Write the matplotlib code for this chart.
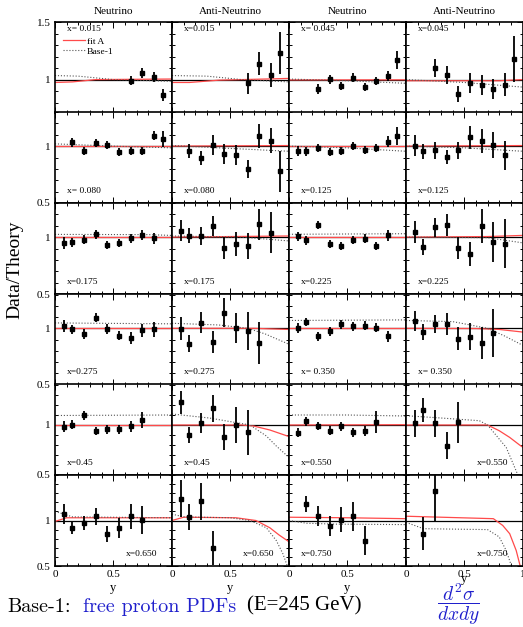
import matplotlib
matplotlib.use('Agg')
import matplotlib.pyplot as plt
from matplotlib.ticker import MultipleLocator

plt.rcParams['font.family'] = 'serif'
plt.rcParams['font.serif'] = ['Liberation Serif']
plt.rcParams['mathtext.fontset'] = 'cm'

col_titles = ["Neutrino", "Anti-Neutrino", "Neutrino", "Anti-Neutrino"]
x_labels = [["x= 0.015", "x=0.015", "x= 0.045", "x=0.045"],
            ["x= 0.080", "x=0.080", "x=0.125", "x=0.125"],
            ["x=0.175", "x=0.175", "x=0.225", "x=0.225"],
            ["x=0.275", "x=0.275", "x= 0.350", "x= 0.350"],
            ["x=0.45", "x=0.45", "x=0.550", "x=0.550"],
            ["x=0.650", "x=0.650", "x=0.750", "x=0.750"]]

# data points per panel: (y, Data/Theory, error); columns Nu, anti-Nu, Nu, anti-Nu
pts_r1 = [
    [(0.65, 0.99, 0.04), (0.75, 1.055, 0.044), (0.85, 1.026, 0.044), (0.93, 0.866, 0.05)],
    [(0.65, 0.968, 0.09), (0.75, 1.138, 0.10), (0.85, 1.04, 0.10), (0.93, 1.23, 0.18)],
    [(0.25, 0.918, 0.044), (0.35, 1.003, 0.04), (0.45, 0.947, 0.035), (0.55, 1.015, 0.04),
     (0.65, 0.933, 0.035), (0.75, 0.985, 0.035), (0.85, 1.032, 0.04), (0.93, 1.17, 0.08)],
    [(0.25, 1.10, 0.08), (0.35, 1.04, 0.08), (0.45, 0.875, 0.073), (0.55, 0.968, 0.088),
     (0.65, 0.953, 0.088), (0.75, 0.92, 0.085), (0.85, 0.956, 0.10), (0.93, 1.18, 0.20)],
]
pts_r2 = [
    [(0.15, 1.032, 0.038), (0.25, 0.959, 0.035), (0.35, 1.024, 0.035), (0.45, 1.012, 0.035),
     (0.55, 0.95, 0.035), (0.65, 0.953, 0.035), (0.75, 0.953, 0.035), (0.85, 1.09, 0.04), (0.93, 1.061, 0.07)],
    [(0.15, 0.956, 0.063), (0.25, 0.893, 0.063), (0.35, 1.012, 0.088), (0.45, 0.932, 0.085),
     (0.55, 0.923, 0.09), (0.65, 0.80, 0.076), (0.75, 1.09, 0.105), (0.85, 1.047, 0.11), (0.93, 0.78, 0.18)],
    [(0.075, 0.954, 0.044), (0.15, 0.954, 0.04), (0.25, 0.984, 0.035), (0.35, 0.95, 0.035),
     (0.45, 0.954, 0.035), (0.55, 0.998, 0.035), (0.65, 0.963, 0.035), (0.75, 0.98, 0.035),
     (0.85, 1.04, 0.045), (0.93, 1.09, 0.076)],
    [(0.075, 1.004, 0.09), (0.15, 0.955, 0.066), (0.25, 0.963, 0.073), (0.35, 0.905, 0.063),
     (0.45, 0.963, 0.075), (0.55, 1.076, 0.098), (0.65, 1.046, 0.105), (0.75, 1.01, 0.115), (0.85, 0.92, 0.127)],
]
pts_r3 = [
    [(0.075, 0.95, 0.05), (0.15, 0.955, 0.04), (0.25, 0.979, 0.04), (0.35, 1.027, 0.04), (0.45, 0.929, 0.035),
     (0.55, 0.95, 0.035), (0.65, 0.988, 0.04), (0.75, 1.018, 0.045), (0.85, 0.988, 0.05)],
    [(0.075, 1.056, 0.094), (0.15, 1.012, 0.067), (0.25, 1.012, 0.08), (0.35, 1.10, 0.09), (0.45, 0.905, 0.097),
     (0.55, 0.94, 0.104), (0.65, 0.922, 0.115), (0.75, 1.113, 0.134), (0.85, 1.04, 0.18)],
    [(0.075, 1.009, 0.04), (0.15, 0.973, 0.04), (0.25, 1.107, 0.035), (0.35, 0.943, 0.035), (0.45, 0.92, 0.035),
     (0.55, 0.973, 0.035), (0.65, 0.985, 0.04), (0.75, 0.922, 0.035), (0.85, 1.015, 0.05)],
    [(0.075, 1.042, 0.097), (0.15, 0.914, 0.07), (0.25, 1.086, 0.082), (0.35, 1.107, 0.10), (0.45, 0.905, 0.10),
     (0.55, 0.848, 0.105), (0.65, 1.098, 0.153), (0.75, 0.958, 0.175), (0.85, 0.943, 0.216)],
]
pts_r4 = [
    [(0.075, 1.021, 0.055), (0.15, 0.991, 0.04), (0.25, 0.946, 0.045), (0.35, 1.095, 0.04), (0.45, 0.997, 0.045),
     (0.55, 0.932, 0.04), (0.65, 0.914, 0.05), (0.75, 0.982, 0.055), (0.85, 0.991, 0.067)],
    [(0.075, 0.997, 0.104), (0.15, 0.863, 0.074), (0.25, 1.051, 0.097), (0.35, 0.878, 0.098),
     (0.45, 1.14, 0.13), (0.55, 1.003, 0.134), (0.65, 0.976, 0.17), (0.75, 0.869, 0.19)],
    [(0.075, 1.003, 0.045), (0.15, 1.056, 0.035), (0.25, 0.931, 0.04), (0.35, 0.976, 0.04), (0.45, 1.036, 0.04),
     (0.55, 1.018, 0.04), (0.65, 1.021, 0.04), (0.75, 1.006, 0.04), (0.85, 0.929, 0.05)],
    [(0.075, 1.065, 0.09), (0.15, 0.967, 0.07), (0.25, 1.042, 0.08), (0.35, 1.036, 0.097),
     (0.45, 0.908, 0.10), (0.55, 0.923, 0.12), (0.65, 0.869, 0.14), (0.75, 0.958, 0.21)],
]
pts_r5 = [
    [(0.075, 0.983, 0.053), (0.15, 1.005, 0.04), (0.25, 1.095, 0.045), (0.35, 0.935, 0.04),
     (0.45, 0.955, 0.045), (0.55, 0.955, 0.045), (0.65, 0.985, 0.05), (0.75, 1.05, 0.078)],
    [(0.075, 1.226, 0.117), (0.15, 0.90, 0.083), (0.25, 1.02, 0.10), (0.35, 1.166, 0.133),
     (0.45, 0.883, 0.13), (0.55, 1.0, 0.183), (0.65, 0.926, 0.223)],
    [(0.075, 0.92, 0.045), (0.15, 1.036, 0.045), (0.25, 0.993, 0.04), (0.35, 0.943, 0.045),
     (0.45, 0.986, 0.045), (0.55, 0.926, 0.045), (0.65, 0.943, 0.05), (0.75, 1.026, 0.11)],
    [(0.075, 1.016, 0.137), (0.15, 1.15, 0.117), (0.25, 1.016, 0.133), (0.35, 0.793, 0.133), (0.45, 1.026, 0.208)],
]
pts_r6 = [
    [(0.075, 1.075, 0.108), (0.15, 0.92, 0.072), (0.25, 0.975, 0.075), (0.35, 1.047, 0.093),
     (0.45, 0.85, 0.086), (0.55, 0.914, 0.11), (0.65, 1.047, 0.135), (0.75, 1.003, 0.156)],
    [(0.075, 1.24, 0.20), (0.15, 1.036, 0.145), (0.25, 1.21, 0.20), (0.35, 0.70, 0.19)],
    [(0.15, 1.18, 0.09), (0.25, 1.047, 0.108), (0.35, 0.935, 0.11), (0.45, 1.01, 0.14),
     (0.55, 1.047, 0.16), (0.65, 0.78, 0.16)],
    [(0.15, 0.855, 0.18), (0.25, 1.32, 0.32)],
]

# theory ratio curves: (y nodes, values)
fitA_r1 = [([0, 0.15, 0.35, 1], [0.975, 0.98, 1.0, 1.005]),
           ([0, 0.15, 0.4, 1], [0.975, 0.975, 0.995, 1.01]),
           ([0, 1], [0.997, 0.998]),
           ([0, 0.8, 1], [0.99, 0.99, 1.0])]
base1_r1 = [([0, 0.2, 0.5, 1], [1.035, 1.03, 1.0, 0.985]),
            ([0, 0.3, 0.6, 1], [1.035, 1.03, 1.0, 0.98]),
            ([0, 0.5, 1], [1.005, 0.99, 0.968]),
            ([0, 0.5, 1], [1.0, 0.975, 0.935])]
fitA_r2 = [([0, 1], [1.0, 1.0]), ([0, 1], [1.0, 1.005]), ([0, 1], [1.0, 1.0]), ([0, 1], [1.0, 1.005])]
base1_r2 = [([0, 0.5, 1], [1.02, 1.0, 0.985]),
            ([0, 0.5, 1], [1.005, 0.98, 0.955]),
            ([0, 0.5, 1], [1.0, 0.985, 0.955]),
            ([0, 0.5, 1], [1.0, 0.985, 0.955])]
fitA_r3 = [([0, 1], [1.0, 1.0]), ([0, 1], [1.0, 1.01]), ([0, 1], [1.0, 1.0]),
           ([0, 0.7, 1], [1.0, 1.005, 1.015])]
base1_r3 = [([0, 0.8, 1], [1.024, 1.022, 1.015]),
            ([0, 0.6, 1], [1.01, 1.0, 0.967]),
            ([0, 1], [1.025, 1.03]),
            ([0, 0.7, 1], [1.0, 0.995, 0.95])]
fitA_r4 = [([0, 1], [1.0, 1.0]), ([0, 0.7, 1], [1.0, 1.0, 0.99]), ([0, 1], [1.0, 1.0]),
           ([0, 0.6, 0.8, 1], [1.0, 0.998, 0.99, 0.967])]
base1_r4 = [([0, 1], [1.048, 1.04]),
            ([0, 0.4, 0.65, 0.8, 1], [1.045, 1.03, 1.0, 0.95, 0.86]),
            ([0, 1], [1.07, 1.075]),
            ([0, 0.4, 0.7, 0.85, 1], [1.07, 1.06, 1.0, 0.93, 0.85])]
fitA_r5 = [([0, 1], [1.0, 1.0]),
           ([0, 0.6, 0.7, 0.84, 1], [1.0, 1.0, 0.99, 0.95, 0.886]),
           ([0, 1], [1.0, 1.003]),
           ([0, 0.7, 0.8, 0.89, 0.975, 1], [1.0, 1.0, 0.943, 0.876, 0.80, 0.78])]
base1_r5 = [([0, 1], [1.095, 1.1]),
            ([0, 0.32, 0.67, 0.81, 0.895, 1], [1.11, 1.07, 1.0, 0.89, 0.79, 0.68]),
            ([0, 0.5, 1], [1.1, 1.1, 1.09]),
            ([0, 0.3, 0.63, 0.70, 0.86, 0.946, 0.96, 1.0], [1.093, 1.07, 1.043, 1.0, 0.776, 0.54, 0.5, 0.4])]
fitA_r6 = [([0, 0.1, 1], [0.99, 1.03, 1.03]),
           ([0, 0.1, 0.55, 0.72, 0.84, 0.92, 1], [1.0, 1.036, 1.03, 1.0, 0.92, 0.84, 0.77]),
           ([0, 0.5, 1], [1.036, 1.03, 1.02]),
           ([0, 0.75, 0.83, 0.89, 0.946, 0.98, 1], [1.047, 1.02, 0.946, 0.855, 0.67, 0.5, 0.4])]
base1_r6 = [([0, 0.15, 1], [1.1, 1.04, 1.03]),
            ([0, 0.1, 0.5, 0.67, 0.81, 0.895, 0.95, 0.99, 1],
             [1.07, 1.04, 1.03, 1.0, 0.92, 0.78, 0.64, 0.5, 0.45]),
            ([0, 0.15, 0.4, 1], [1.0, 0.97, 0.96, 0.955]),
            ([0, 0.15, 0.7, 0.8, 0.86, 0.9, 0.92], [0.98, 0.91, 0.9, 0.82, 0.67, 0.52, 0.45])]

all_pts = [pts_r1, pts_r2, pts_r3, pts_r4, pts_r5, pts_r6]
all_fitA = [fitA_r1, fitA_r2, fitA_r3, fitA_r4, fitA_r5, fitA_r6]
all_base1 = [base1_r1, base1_r2, base1_r3, base1_r4, base1_r5, base1_r6]

# y range of each row as it appears in the figure
row_ylims = [(0.71, 1.5), (0.5, 1.30), (0.5, 1.30), (0.5, 1.31), (0.5, 1.41), (0.5, 1.5)]

W, H = 523, 627
fig = plt.figure(figsize=(W / 100, H / 100), dpi=100)

col_left = [55, 172, 289, 406]
col_w = 116.5
row_top = [22, 112, 203, 293.5, 384, 475]
row_h = 91

label_pos = [['tl'] * 4, ['bl'] * 4, ['bl'] * 4, ['bl'] * 4,
             ['bl', 'bl', 'bl', 'br'], ['br', 'br', 'bl', 'br']]

for r in range(6):
    for c in range(4):
        ax = fig.add_axes([col_left[c] / W, 1 - (row_top[r] + row_h) / H, col_w / W, row_h / H])
        ax.set_xlim(0, 1)
        ax.set_ylim(*row_ylims[r])
        ax.axhline(1.0, color='black', lw=0.9, zorder=1)

        ny, vy = all_fitA[r][c]
        ax.plot(ny, vy, color='#ff4a4a', lw=0.9, zorder=2, label='fit A')
        ny, vy = all_base1[r][c]
        ax.plot(ny, vy, color='#555555', lw=0.8, ls=':', zorder=2, label='Base-1')

        pts = all_pts[r][c]
        ax.errorbar([p[0] for p in pts], [p[1] for p in pts], yerr=[p[2] for p in pts],
                    fmt='s', color='black', ms=3.4, elinewidth=1.3, capsize=0, zorder=3)

        for s in ax.spines.values():
            s.set_linewidth(1.2)
        ax.xaxis.set_minor_locator(MultipleLocator(0.1))
        ax.yaxis.set_minor_locator(MultipleLocator(0.1))
        ax.set_xticks([0, 0.5, 1])
        ax.set_yticks([1.0, 1.5] if r == 0 else [0.5, 1.0])
        ax.tick_params(which='both', direction='in', top=True, right=True, width=0.7,
                       labelsize=8, pad=3)
        ax.tick_params(which='major', length=4.5)
        ax.tick_params(which='minor', length=2.5)
        if c == 0:
            ax.set_yticklabels(['1', '1.5'] if r == 0 else ['0.5', '1'])
        else:
            ax.set_yticklabels([])
        if r == 5:
            ax.set_xticklabels(['0', '0.5', '1' if c == 3 else ''])
        else:
            ax.set_xticklabels([])

        pos = label_pos[r][c]
        if pos == 'tl':
            ax.text(0.1, 0.92, x_labels[r][c], transform=ax.transAxes, fontsize=6.8, va='center')
        elif pos == 'bl':
            ax.text(0.1, 0.135, x_labels[r][c], transform=ax.transAxes, fontsize=6.8, va='center')
        else:
            ax.text(0.88, 0.13, x_labels[r][c], transform=ax.transAxes, fontsize=6.8,
                    va='center', ha='right')

        if r == 0 and c == 0:
            ax.legend(loc='upper left', bbox_to_anchor=(0.06, 0.845), frameon=False,
                      fontsize=6.8, handlelength=2.3, handletextpad=0.2, labelspacing=0.15,
                      borderpad=0.1, borderaxespad=0)

for c in range(4):
    xc = (col_left[c] + col_w / 2) / W
    fig.text(xc, 1 - 12 / H, col_titles[c], ha='center', va='center', fontsize=8)
    fig.text(xc, 1 - (579 if c == 3 else 588) / H, 'y', ha='center', va='center', fontsize=9)

fig.text(15 / W, 1 - 270 / H, 'Data/Theory', rotation=90, ha='center', va='center', fontsize=14)

fig.text(7 / W, 1 - 607 / H, 'Base-1:', family='cmr10', fontsize=14.5, va='center')
fig.text(83 / W, 1 - 607 / H, 'free proton PDFs', family='cmr10', fontsize=14.5,
         va='center', color='#2020cc')
fig.text(247 / W, 1 - 606 / H, '(E=245 GeV)', fontsize=15, va='center')
fig.text(458 / W, 1 - 604 / H, r'$\dfrac{d^2\sigma}{dxdy}$', fontsize=14, ha='center',
         va='center', color='#2020cc')

fig.savefig('out.png', dpi=100)
